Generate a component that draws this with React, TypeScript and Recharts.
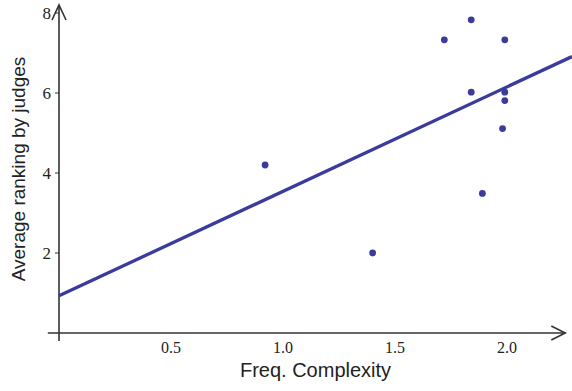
import { ReferenceDot, ReferenceLine, Scatter, ScatterChart, XAxis, YAxis } from 'recharts'

// values
const complexity = [0.92, 1.4, 1.72, 1.84, 1.84, 1.89, 1.98, 1.99, 1.99, 1.99]
const ranking = [4.2, 2.0, 7.33, 7.83, 6.02, 3.49, 5.11, 7.33, 6.02, 5.81]
const xTicks = [0.5, 1.0, 1.5, 2.0]
const yTicks = [2, 4, 6, 8]
const fitX = [0, 2.29]
const fitY = [0.93, 6.91]

const INK = '#3b3b9e'
const AXIS = '#333'

const points = complexity.map((x, i) => ({ x, y: ranking[i] }))

function Dot(props: { cx?: number; cy?: number }) {
  return <circle cx={props.cx} cy={props.cy} r={3.4} fill={INK} />
}

function ArrowRight(props: { cx?: number; cy?: number }) {
  const { cx = 0, cy = 0 } = props
  return (
    <path
      d={`M${cx - 14},${cy - 7} L${cx},${cy} L${cx - 14},${cy + 7}`}
      fill="none"
      stroke={AXIS}
      strokeWidth={1.6}
    />
  )
}

function ArrowUp(props: { cx?: number; cy?: number }) {
  const { cx = 0, cy = 0 } = props
  return (
    <path
      d={`M${cx - 7},${cy + 15} L${cx},${cy} L${cx + 7},${cy + 15}`}
      fill="none"
      stroke={AXIS}
      strokeWidth={1.6}
    />
  )
}

export default function App() {
  return (
    <div style={{ position: 'absolute', left: 0, top: 0, background: '#fff' }}>
      <ScatterChart width={572} height={391} margin={{ top: 5, right: 0, bottom: 0, left: 0 }}>
        <XAxis
          type="number"
          dataKey="x"
          domain={[0, 2.29]}
          allowDataOverflow
          ticks={xTicks}
          tickFormatter={(v: number) => v.toFixed(1)}
          axisLine={false}
          tickLine={false}
          tickSize={0}
          tickMargin={9}
          height={58}
          tick={{ fill: '#222', fontSize: 16, fontFamily: 'Liberation Serif' }}
          label={{
            value: 'Freq. Complexity',
            position: 'insideBottom',
            offset: 14,
            style: { fill: '#222', fontSize: 20, fontFamily: 'Liberation Sans' },
          }}
        />
        <YAxis
          type="number"
          dataKey="y"
          domain={[0, 8.2]}
          allowDataOverflow
          ticks={yTicks}
          axisLine={false}
          tickLine={{ stroke: AXIS }}
          tickSize={4}
          tickMargin={4}
          width={59}
          tick={{ fill: '#222', fontSize: 17, fontFamily: 'Liberation Serif' }}
          label={{
            value: 'Average ranking by judges',
            angle: -90,
            position: 'insideLeft',
            offset: 18,
            style: { textAnchor: 'middle', fill: '#222', fontSize: 19, fontFamily: 'Liberation Sans' },
          }}
        />
        <ReferenceLine
          segment={[
            { x: -0.05, y: 0 },
            { x: 2.26, y: 0 },
          ]}
          stroke={AXIS}
          strokeWidth={1.6}
          ifOverflow="visible"
        />
        <ReferenceLine
          segment={[
            { x: 0, y: -0.2 },
            { x: 0, y: 8.2 },
          ]}
          stroke={AXIS}
          strokeWidth={1.6}
          ifOverflow="visible"
        />
        <ReferenceDot x={2.26} y={0} r={0} ifOverflow="visible" shape={<ArrowRight />} />
        <ReferenceDot x={0} y={8.2} r={0} ifOverflow="visible" shape={<ArrowUp />} />
        <ReferenceLine
          segment={[
            { x: fitX[0], y: fitY[0] },
            { x: fitX[1], y: fitY[1] },
          ]}
          stroke={INK}
          strokeWidth={3.3}
          ifOverflow="visible"
        />
        <Scatter data={points} shape={<Dot />} isAnimationActive={false} />
      </ScatterChart>
    </div>
  )
}
